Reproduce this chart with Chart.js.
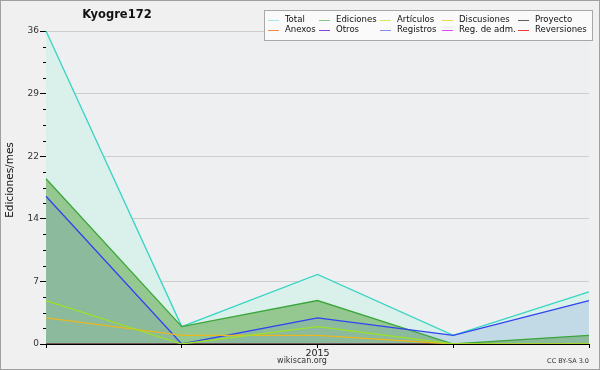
<!DOCTYPE html>
<html>
<head>
<meta charset="utf-8">
<script src="https://cdn.jsdelivr.net/npm/chart.js@4"></script>
<style>
  html, body { margin: 0; padding: 0; background: #f0f0f0; }
  #wrap { width: 600px; height: 370px; position: relative; }
</style>
</head>
<body>
<div id="wrap"><canvas id="chart" width="600" height="370"></canvas></div>
<script>
// months, only January carries the year label
const labels = ["", "", "2015", "", ""];

const total = [36, 2, 8, 1, 6];
const ediciones = [19, 2, 5, 0, 1];
const articulos = [5, 0, 2, 0, 0];
const discusiones = [3, 1, 1, 0, 0];
const proyecto = [0, 0, 0, 0, 0];
const anexos = [0, 0, 0, 0, 0];
const otros = [0, 0, 0, 0, 0];
const registros = [17, 0, 3, 1, 5];
const regAdm = [0, 0, 0, 0, 0];
const reversiones = [0, 0, 0, 0, 0];

const yMax = 36;
const yStep = 1.8; // minor step, every 4th is labelled

const FONT = "'DejaVu Sans', sans-serif";
const COND = "'DejaVu Sans Condensed', 'DejaVu Sans', sans-serif";

// legend entries in the order of the two rows
const legendItems = [
  { text: "Total", color: "#a6e8e6" },
  { text: "Ediciones", color: "#86c886" },
  { text: "Artículos", color: "#c8ee5a" },
  { text: "Discusiones", color: "#f6d048" },
  { text: "Proyecto", color: "#606060" },
  { text: "Anexos", color: "#f08848" },
  { text: "Otros", color: "#8844e0" },
  { text: "Registros", color: "#8890f0" },
  { text: "Reg. de adm.", color: "#d850f0" },
  { text: "Reversiones", color: "#f03838" },
];

const line = (label, data, color, order, extra) => Object.assign({
  label,
  data,
  borderColor: color,
  borderWidth: 1.3,
  pointRadius: 0,
  tension: 0,
  fill: false,
  order,
}, extra || {});

const decor = {
  id: "decor",
  beforeDraw(chart) {
    const c = chart.ctx;
    c.save();
    c.fillStyle = "#f0f0f0";
    c.fillRect(0, 0, chart.width, chart.height);
    const a = chart.chartArea;
    c.fillStyle = "#eeeff0";
    c.fillRect(a.left, a.top, a.right - a.left, a.bottom - a.top);
    c.restore();
  },
  afterDraw(chart) {
    const c = chart.ctx;
    const y = chart.scales.y;
    c.save();
    // minor ticks on the y axis
    c.strokeStyle = "#000";
    c.lineWidth = 1;
    y.ticks.forEach((t, i) => {
      if (i % 4 === 0) return;
      const py = Math.round(y.getPixelForValue(t.value)) + 0.5;
      c.beginPath();
      c.moveTo(y.right - 3, py);
      c.lineTo(y.right, py);
      c.stroke();
    });

    // title
    c.fillStyle = "#111";
    c.font = "bold 11.5px " + FONT;
    c.textAlign = "center";
    c.textBaseline = "middle";
    c.fillText("Kyogre172", 117, 15);

    // y title
    c.save();
    c.translate(10, 180);
    c.rotate(-Math.PI / 2);
    c.font = "10.5px " + FONT;
    c.fillStyle = "#111";
    c.fillText("Ediciones/mes", 0, 0);
    c.restore();

    // footer
    c.font = "8px " + FONT;
    c.fillStyle = "#333";
    c.fillText("wikiscan.org", 302, 361);
    c.font = "6.5px " + FONT;
    c.textAlign = "right";
    c.fillText("CC BY-SA 3.0", 589, 361);

    // legend box
    c.fillStyle = "#fafafa";
    c.fillRect(264.5, 10.5, 328, 30);
    c.strokeStyle = "#a8a8a8";
    c.strokeRect(264.5, 10.5, 328, 30);
    const cols = [268, 319, 380, 442, 518];
    const rows = [20, 30];
    c.font = "9.5px " + COND;
    c.textAlign = "left";
    legendItems.forEach((it, i) => {
      const x = cols[i % 5];
      const yy = rows[Math.floor(i / 5)];
      c.strokeStyle = it.color;
      c.beginPath();
      c.moveTo(x, yy + 0.5);
      c.lineTo(x + 11, yy + 0.5);
      c.stroke();
      c.fillStyle = "#111";
      c.fillText(it.text, x + 17, yy);
    });

    // outer frame
    c.strokeStyle = "#a0a0a0";
    c.strokeRect(0.5, 0.5, chart.width - 1, chart.height - 1);
    c.restore();
  },
};

new Chart(document.getElementById("chart"), {
  type: "line",
  data: {
    labels,
    datasets: [
      line("Total", total, "#38d4c4", 10, { fill: "origin", backgroundColor: "#d9f1ea" }),
      line("Registros", registros, "#3044f0", 2, { fill: "origin", backgroundColor: "rgba(100,130,210,0.2)" }),
      line("Ediciones", ediciones, "#3ca63c", 3, { fill: "origin", backgroundColor: "rgba(93,166,69,0.55)" }),
      line("Artículos", articulos, "#9ee02a", 1),
      line("Discusiones", discusiones, "#e8b820", 1),
      line("Proyecto", proyecto, "#505050", 4),
      line("Anexos", anexos, "#f08040", 4),
      line("Otros", otros, "#8040e0", 4),
      line("Reg. de adm.", regAdm, "#d040f0", 4),
      line("Reversiones", reversiones, "#f03030", 4),
    ],
  },
  options: {
    responsive: false,
    animation: false,
    layout: { padding: { left: 0, right: 11, top: 31, bottom: 0 } },
    plugins: {
      legend: { display: false },
      tooltip: { enabled: false },
      filler: { drawTime: "beforeDatasetsDraw" },
    },
    scales: {
      x: {
        offset: false,
        afterFit(s) { s.height = 26; },
        grid: {
          drawOnChartArea: false,
          drawTicks: true,
          tickLength: 4,
          tickColor: "#000",
        },
        border: { display: true, color: "#000", width: 1 },
        ticks: {
          autoSkip: false,
          maxRotation: 0,
          padding: 0,
          color: "#222",
          font: { family: FONT, size: 9.5 },
        },
      },
      y: {
        min: 0,
        max: yMax,
        afterFit(s) { s.width = 46; },
        grid: {
          color: (ctx) => (ctx.index % 4 === 0 ? "#cdcdcd" : "transparent"),
          tickColor: (ctx) => (ctx.index % 4 === 0 ? "#000" : "transparent"),
          tickLength: 6,
        },
        border: { display: true, color: "#000", width: 1 },
        ticks: {
          stepSize: yStep,
          autoSkip: false,
          padding: 1,
          color: "#333",
          font: { family: FONT, size: 9 },
          callback: (v, i) => (i % 4 === 0 ? Math.round(v) : ""),
        },
      },
    },
  },
  plugins: [decor],
});
</script>
</body>
</html>
